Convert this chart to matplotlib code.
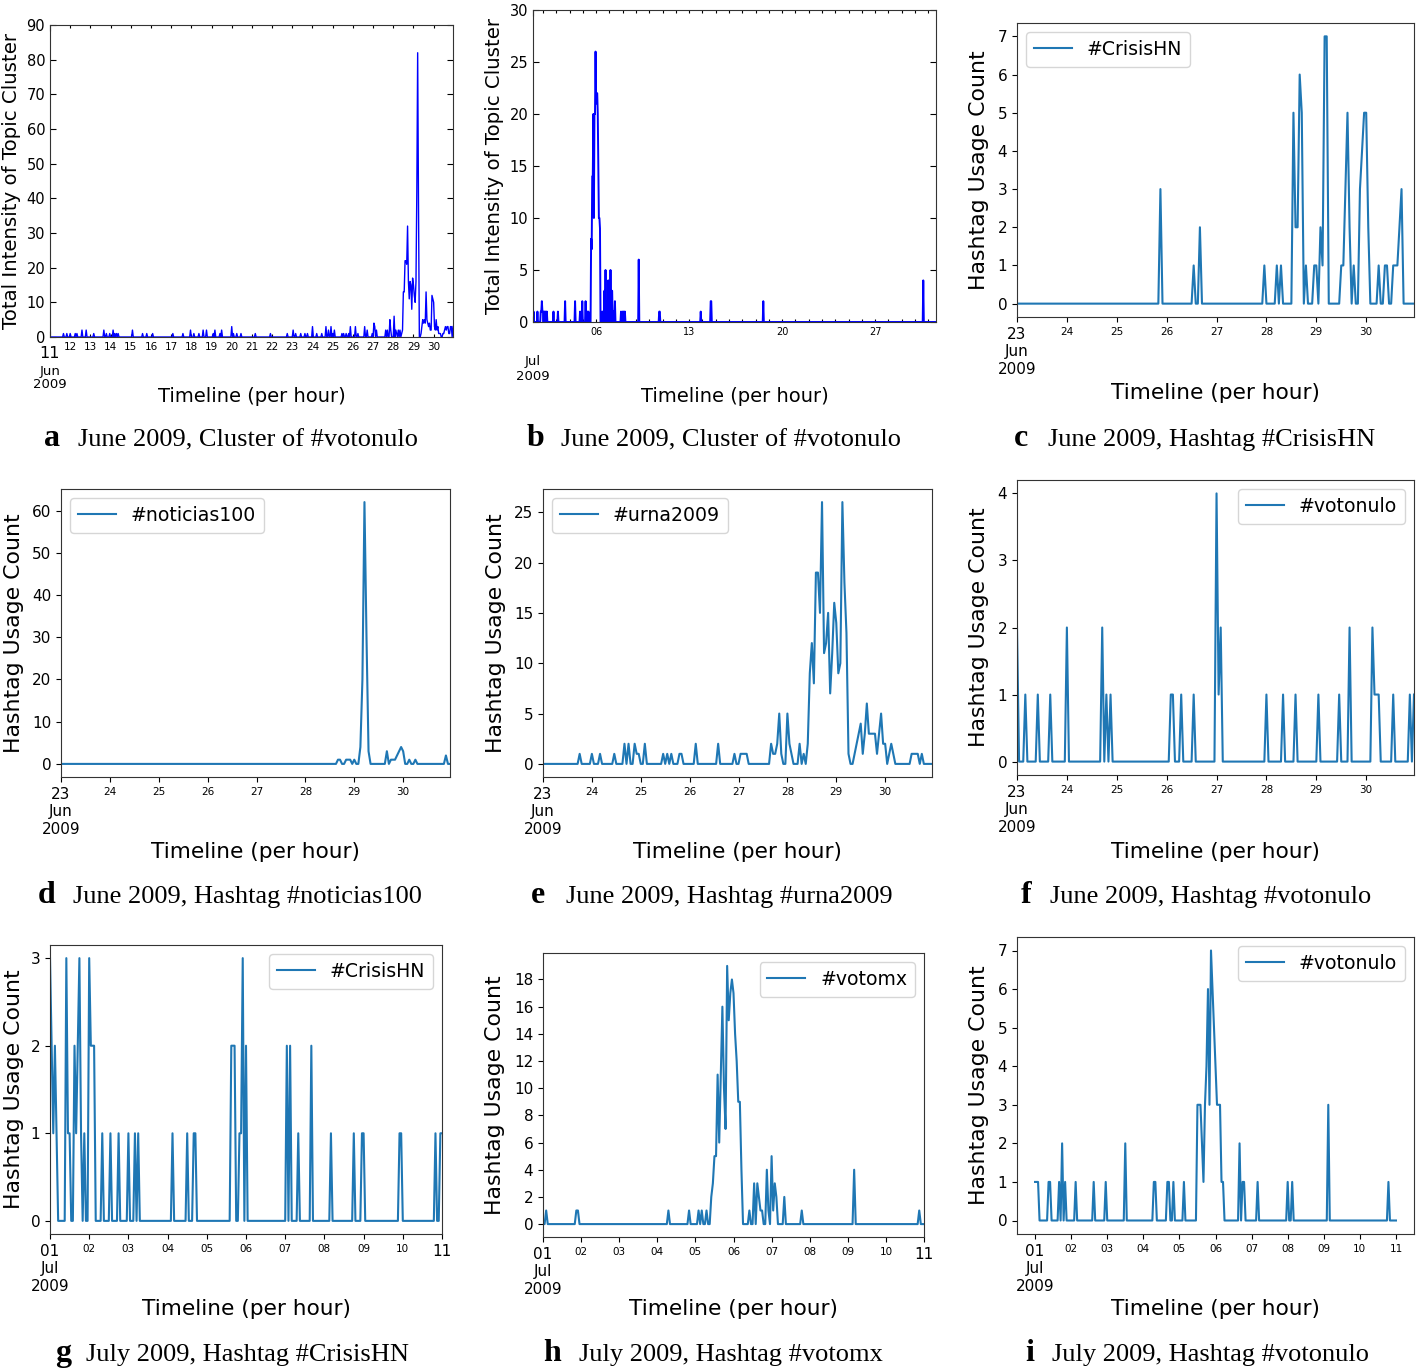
import numpy as np
import pandas as pd
import matplotlib
matplotlib.use("Agg")
import matplotlib.pyplot as plt
import matplotlib.dates as mdates
import matplotlib.transforms as mtransforms
from matplotlib.ticker import FixedLocator, FixedFormatter, FuncFormatter, MultipleLocator

# ------------------------------------------------------------------ data
# hourly series; hours are offsets from midnight of the start day, hours not listed are 0
a_start, a_end = "2009-06-11 00:00", "2009-06-30 23:00"
a_hours = [16, 20, 24, 30, 32, 38, 43, 52, 64, 67, 71, 75, 77, 79, 81, 98, 110, 115, 122, 146,
           158, 167, 171, 177, 182, 186, 194, 196, 202, 204, 216, 218, 222, 227, 244, 262, 282,
           289, 292, 298, 303, 306, 312, 317, 323, 328, 331, 334, 336, 338, 347, 349, 352, 355,
           357, 363, 366, 374, 377, 383, 385, 386, 388, 399, 401, 404, 405, 409, 411, 412, 414,
           416, 418, 419, 420, 421, 422, 423, 424, 425, 426, 427, 428, 429, 430, 431, 432, 433,
           434, 435, 436, 437, 438, 441, 442, 443, 444, 445, 446, 447, 448, 449, 450, 451, 452,
           453, 454, 455, 456, 457, 458, 459, 460, 461, 462, 463, 464, 467, 468, 469, 470, 471,
           472, 473, 474, 475, 476, 477, 479]
a_counts = [1, 1, 1, 1, 1, 2, 2, 1, 2, 1, 1, 2, 1, 1, 1, 2, 1, 1, 1, 1,
            1, 2, 1, 1, 2, 2, 1, 2, 1, 2, 3, 1, 1, 1, 1, 1, 1,
            2, 1, 1, 1, 1, 3, 1, 1, 3, 2, 3, 1, 2, 1, 1, 1, 1,
            3, 3, 1, 3, 2, 1, 4, 3, 2, 2, 2, 5, 2, 6, 2, 1, 2,
            2, 1, 2, 13, 13, 22, 22, 21, 32, 16, 11, 16, 15, 8, 17, 15, 12,
            10, 16, 42, 82, 38, 1, 3, 5, 4, 5, 4, 13, 5, 4, 3, 4, 2,
            2, 12, 11, 10, 3, 2, 5, 2, 3, 1, 1, 1, 1, 1, 2, 3, 2,
            3, 3, 1, 1, 3, 3, 3]

b_start, b_end = "2009-07-01 06:00", "2009-07-31 14:00"
b_hours = [7, 14, 20, 21, 22, 23, 24, 26, 27, 29, 31, 43, 51, 64, 82, 91, 95, 101, 104, 106,
           111, 112, 113, 114, 115, 116, 117, 118, 119, 120, 121, 122, 123, 124, 125, 126, 127,
           131, 133, 135, 137, 139, 140, 142, 144, 146, 148, 149, 151, 154, 165, 168, 170, 172,
           197, 234, 235, 309, 327, 328, 422, 711]
b_counts = [1, 1, 1, 1, 2, 1, 1, 1, 1, 1, 1, 1, 1, 2, 2, 1, 2, 2, 1, 1,
            8, 7, 14, 14, 20, 10, 20, 20, 26, 21, 22, 22, 20, 15, 10, 10, 9,
            1, 1, 3, 5, 2, 1, 4, 2, 5, 3, 3, 1, 2, 1, 1, 1, 1,
            6, 1, 1, 1, 2, 2, 2, 4]

c_start, c_end = "2009-06-23 00:00", "2009-06-30 23:00"
c_hours = [69, 85, 88, 119, 125, 127, 133, 134, 135, 136, 137, 139, 143, 144, 146, 147, 148,
           149, 156, 157, 158, 159, 160, 162, 165, 166, 167, 168, 169, 174, 177, 178, 181, 182,
           183, 184, 185]
c_counts = [3, 1, 2, 1, 1, 1, 5, 2, 2, 6, 5, 1, 1, 1, 2, 1, 7,
            7, 1, 1, 3, 5, 2, 1, 3, 4, 5, 5, 2, 1, 1, 1, 1, 1,
            1, 2, 3]

d_start, d_end = "2009-06-23 00:00", "2009-06-30 23:00"
d_hours = [136, 137, 140, 141, 142, 144, 147, 148, 149, 150, 151, 160, 162, 163, 164, 165,
           166, 167, 168, 171, 174, 189]
d_counts = [1, 1, 1, 1, 1, 1, 4, 20, 62, 30, 3, 3, 1, 1, 1, 2,
            3, 4, 3, 1, 1, 2]

e_start, e_end = "2009-06-23 00:00", "2009-06-30 23:00"
e_hours = [18, 24, 28, 35, 40, 42, 45, 46, 47, 50, 59, 61, 63, 67, 68, 75, 86, 94, 97, 98,
           99, 100, 112, 113, 114, 115, 116, 117, 120, 121, 122, 126, 128, 130, 131, 132, 133,
           134, 135, 136, 137, 138, 139, 140, 141, 142, 143, 144, 145, 146, 147, 148, 149, 150,
           153, 154, 155, 156, 157, 158, 159, 160, 161, 162, 163, 164, 165, 166, 167, 168, 170,
           171, 172, 181, 182, 183, 184, 186]
e_counts = [1, 1, 1, 1, 2, 2, 2, 1, 1, 2, 1, 1, 1, 1, 1, 2, 2, 1, 1, 1,
            1, 1, 2, 1, 1, 2, 5, 1, 5, 2, 1, 2, 1, 2, 9, 12, 8,
            19, 19, 15, 26, 11, 12, 15, 7, 11, 16, 14, 9, 10, 26, 18, 13, 1,
            1, 2, 3, 4, 1, 3, 6, 3, 3, 3, 3, 1, 3, 5, 2, 2, 1,
            2, 1, 1, 1, 1, 1, 1]

f_start, f_end = "2009-06-23 00:00", "2009-06-30 23:00"
f_hours = [0, 4, 10, 16, 24, 41, 43, 45, 74, 75, 79, 85, 96, 97, 98, 120, 128, 134, 145, 155,
           160, 171, 172, 173, 174, 181, 189, 191]
f_counts = [2, 1, 1, 1, 2, 2, 1, 1, 1, 1, 1, 1, 4, 1, 2, 1, 1, 1, 1, 1,
            2, 2, 1, 1, 1, 1, 1, 1]

g_start, g_end = "2009-07-01 00:00", "2009-07-11 00:00"
g_hours = [0, 1, 2, 3, 4, 10, 11, 12, 15, 16, 17, 18, 19, 21, 24, 25, 26, 27, 32, 37, 42, 48,
           52, 54, 75, 84, 88, 89, 111, 112, 113, 116, 117, 118, 120, 145, 147, 152, 160, 172,
           186, 191, 192, 214, 215, 236, 239, 240]
g_counts = [3, 2, 1, 2, 1, 3, 1, 1, 2, 1, 2, 3, 1, 1, 3, 2, 2, 2, 1, 1, 1, 1,
            1, 1, 1, 1, 1, 1, 2, 2, 2, 1, 1, 3, 2, 2, 2, 1, 2, 1,
            1, 1, 1, 1, 1, 1, 1, 1]

h_start, h_end = "2009-07-01 00:00", "2009-07-11 00:00"
h_hours = [2, 21, 22, 79, 92, 98, 100, 103, 106, 107, 108, 109, 110, 111, 112, 113, 114, 115,
           116, 117, 118, 119, 120, 121, 122, 123, 124, 125, 130, 133, 135, 136, 137, 138, 141,
           142, 144, 145, 146, 147, 152, 163, 196, 237]
h_counts = [1, 1, 1, 1, 1, 1, 1, 1, 2, 3, 5, 5, 11, 6, 11, 16, 10, 7,
            19, 15, 17, 18, 17, 14, 12, 9, 9, 4, 1, 3, 3, 2, 1, 1, 4,
            1, 5, 1, 3, 2, 2, 1, 4, 1]

i_start, i_end = "2009-07-01 00:00", "2009-07-11 00:00"
i_hours = [0, 1, 2, 9, 10, 16, 18, 20, 27, 39, 47, 60, 79, 80, 88, 89, 92, 99, 108, 109, 110,
           111, 112, 113, 114, 115, 116, 117, 118, 119, 120, 121, 122, 123, 124, 125, 136, 138,
           139, 148, 168, 171, 195, 235]
i_counts = [1, 1, 1, 1, 1, 1, 2, 1, 1, 1, 1, 2, 1, 1, 1, 1, 1, 1, 3, 3, 3,
            2, 1, 3, 4, 6, 3, 7, 6, 5, 4, 3, 3, 3, 1, 1, 2, 1,
            1, 1, 1, 1, 3, 1]

legend_labels = {"c": "#CrisisHN", "d": "#noticias100", "e": "#urna2009", "f": "#votonulo",
                 "g": "#CrisisHN", "h": "#votomx", "i": "#votonulo"}
captions = {"a": "June 2009, Cluster of #votonulo", "b": "June 2009, Cluster of #votonulo",
            "c": "June 2009, Hashtag #CrisisHN", "d": "June 2009, Hashtag #noticias100",
            "e": "June 2009, Hashtag #urna2009", "f": "June 2009, Hashtag #votonulo",
            "g": "July 2009, Hashtag #CrisisHN", "h": "July 2009, Hashtag #votomx",
            "i": "July 2009, Hashtag #votonulo"}

# ------------------------------------------------------------------ layout
W, H = 1418, 1369
fig = plt.figure(figsize=(W / 100, H / 100), dpi=100)

rects = {"a": (50, 25, 453, 337), "b": (533, 10, 936, 322), "c": (1017, 23, 1414, 317),
         "d": (61, 489, 450, 777), "e": (543, 489, 932, 777), "f": (1017, 480, 1414, 775),
         "g": (50, 945, 442, 1234), "h": (543, 953, 924, 1237), "i": (1017, 937, 1414, 1234)}
# (xlabel centre y, ylabel centre x) in pixels
label_px = {"a": (397, 12), "b": (396, 494), "c": (393, 979), "d": (852, 14), "e": (852, 496),
            "f": (852, 979), "g": (1309, 14), "h": (1309, 495), "i": (1309, 979)}
# (letter x, text x, baseline y)
caption_px = {"a": (44, 78, 446), "b": (527, 561, 446), "c": (1014, 1048, 446),
              "d": (38, 73, 903), "e": (531, 566, 903), "f": (1021, 1050, 903),
              "g": (55, 86, 1361), "h": (543, 579, 1361), "i": (1025, 1052, 1361)}


def build(start, end, hours, counts):
    idx = pd.date_range(start, end, freq="h")
    t0 = pd.Timestamp(start).normalize()
    offs = (idx - t0) // pd.Timedelta(hours=1)
    lut = dict(zip(hours, counts))
    vals = np.array([lut.get(int(o), 0) for o in offs], dtype=float)
    return idx.to_pydatetime(), vals


def add_axes(key):
    l, t, r, b = rects[key]
    return fig.add_axes([l / W, 1 - b / H, (r - l) / W, (b - t) / H])


def place_labels(ax, key, xl, yl, xfs, yfs):
    l, t, r, b = rects[key]
    xy, yx = label_px[key]
    ax.set_xlabel(xl, fontsize=xfs)
    ax.set_ylabel(yl, fontsize=yfs)
    ax.xaxis.set_label_coords(0.5, (b - xy) / (b - t))
    ax.yaxis.set_label_coords((yx - l) / (r - l), 0.5)
    ax.xaxis.label.set_verticalalignment("center")
    ax.yaxis.label.set_verticalalignment("center")


def day_fmt(x, pos):
    return mdates.num2date(x).strftime("%d")


def week_fmt(x, pos):
    d = mdates.num2date(x)
    return d.strftime("%d") if d.day in (6, 13, 20, 27) else ""


series = {"a": (a_start, a_end, a_hours, a_counts), "b": (b_start, b_end, b_hours, b_counts),
          "c": (c_start, c_end, c_hours, c_counts), "d": (d_start, d_end, d_hours, d_counts),
          "e": (e_start, e_end, e_hours, e_counts), "f": (f_start, f_end, f_hours, f_counts),
          "g": (g_start, g_end, g_hours, g_counts), "h": (h_start, h_end, h_hours, h_counts),
          "i": (i_start, i_end, i_hours, i_counts)}

# ---- classic-style panels a, b
for key in ("a", "b"):
    ax = add_axes(key)
    t, v = build(*series[key])
    ax.plot(t, v, color="#0000ff", lw=1.0 if key == "a" else 1.4)
    ax.set_xlim(t[0], t[-1])
    ax.xaxis.set_major_locator(FixedLocator([mdates.date2num(t[0])]))
    if key == "a":
        ax.set_ylim(0, 90)
        ax.yaxis.set_major_locator(MultipleLocator(10))
        ax.xaxis.set_major_formatter(FixedFormatter(["11"]))
        ax.xaxis.set_minor_formatter(FuncFormatter(day_fmt))
        ax.tick_params(axis="x", which="major", labelsize=11.5, pad=6.3)
        ax.tick_params(axis="x", which="minor", labelsize=7.5)
        trans = mtransforms.blended_transform_factory(ax.transData, ax.transAxes)
        ax.text(t[0], -0.09, "Jun\n2009", transform=trans, ha="center", va="top",
                fontsize=9.5, linespacing=1.0)
    else:
        ax.set_ylim(0, 30)
        ax.yaxis.set_major_locator(MultipleLocator(5))
        ax.xaxis.set_major_formatter(FixedFormatter(["Jul\n2009"]))
        ax.xaxis.set_minor_formatter(FuncFormatter(week_fmt))
        ax.tick_params(axis="x", which="major", labelsize=9.5, pad=24)
        ax.tick_params(axis="x", which="minor", labelsize=7)
    ax.xaxis.set_minor_locator(mdates.DayLocator())
    ax.tick_params(which="both", direction="in", top=True, right=True, width=0.8)
    ax.tick_params(which="major", length=4)
    ax.tick_params(which="minor", length=2)
    ax.tick_params(axis="y", labelsize=10.5)
    for s in ax.spines.values():
        s.set_color("#333333")
    place_labels(ax, key, "Timeline (per hour)", "Total Intensity of Topic Cluster", 14, 14.2)

# ---- default-style panels c..i
yticks_step = {"c": 1, "d": 10, "e": 5, "f": 1, "g": 1, "h": 2, "i": 1}
legend_loc = {"c": "upper left", "d": "upper left", "e": "upper left", "f": "upper right",
              "g": "upper right", "h": "upper right", "i": "upper right"}
for key in "cdefghi":
    ax = add_axes(key)
    t, v = build(*series[key])
    ax.plot(t, v, color="#1f77b4", lw=1.5, label=legend_labels[key])
    if key == "i":
        ax.margins(x=0.05)
    else:
        ax.set_xlim(t[0], t[-1])
    ax.yaxis.set_major_locator(MultipleLocator(yticks_step[key]))
    first = mdates.date2num(t[0])
    if key in "cdef":
        majors, mlabels = [first], ["23\nJun\n2009"]
    elif key in "gh":
        majors, mlabels = [first, mdates.date2num(t[-1])], ["01\nJul\n2009", "11"]
    else:
        majors, mlabels = [first], ["01\nJul\n2009"]
    ax.xaxis.set_major_locator(FixedLocator(majors))
    ax.xaxis.set_major_formatter(FixedFormatter(mlabels))
    ax.xaxis.set_minor_locator(mdates.DayLocator())
    ax.xaxis.set_minor_formatter(FuncFormatter(day_fmt))
    ax.tick_params(axis="x", which="major", labelsize=11, length=3.5)
    ax.tick_params(axis="x", which="minor", labelsize=7.5, length=3.5, width=0.8)
    ax.tick_params(axis="y", labelsize=11)
    for s in ax.spines.values():
        s.set_color("#333333")
    ax.legend(loc=legend_loc[key], fontsize=13.6)
    place_labels(ax, key, "Timeline (per hour)", "Hashtag Usage Count", 15.6, 15.8)

# ---- captions
for key, (lx, tx, by) in caption_px.items():
    fig.text(lx / W, 1 - by / H, key, fontsize=23, fontweight="bold",
             family="Liberation Serif", va="baseline", ha="left")
    fig.text(tx / W, 1 - by / H, captions[key], fontsize=19,
             family="Liberation Serif", va="baseline", ha="left")

fig.savefig("out.png", dpi=100)
